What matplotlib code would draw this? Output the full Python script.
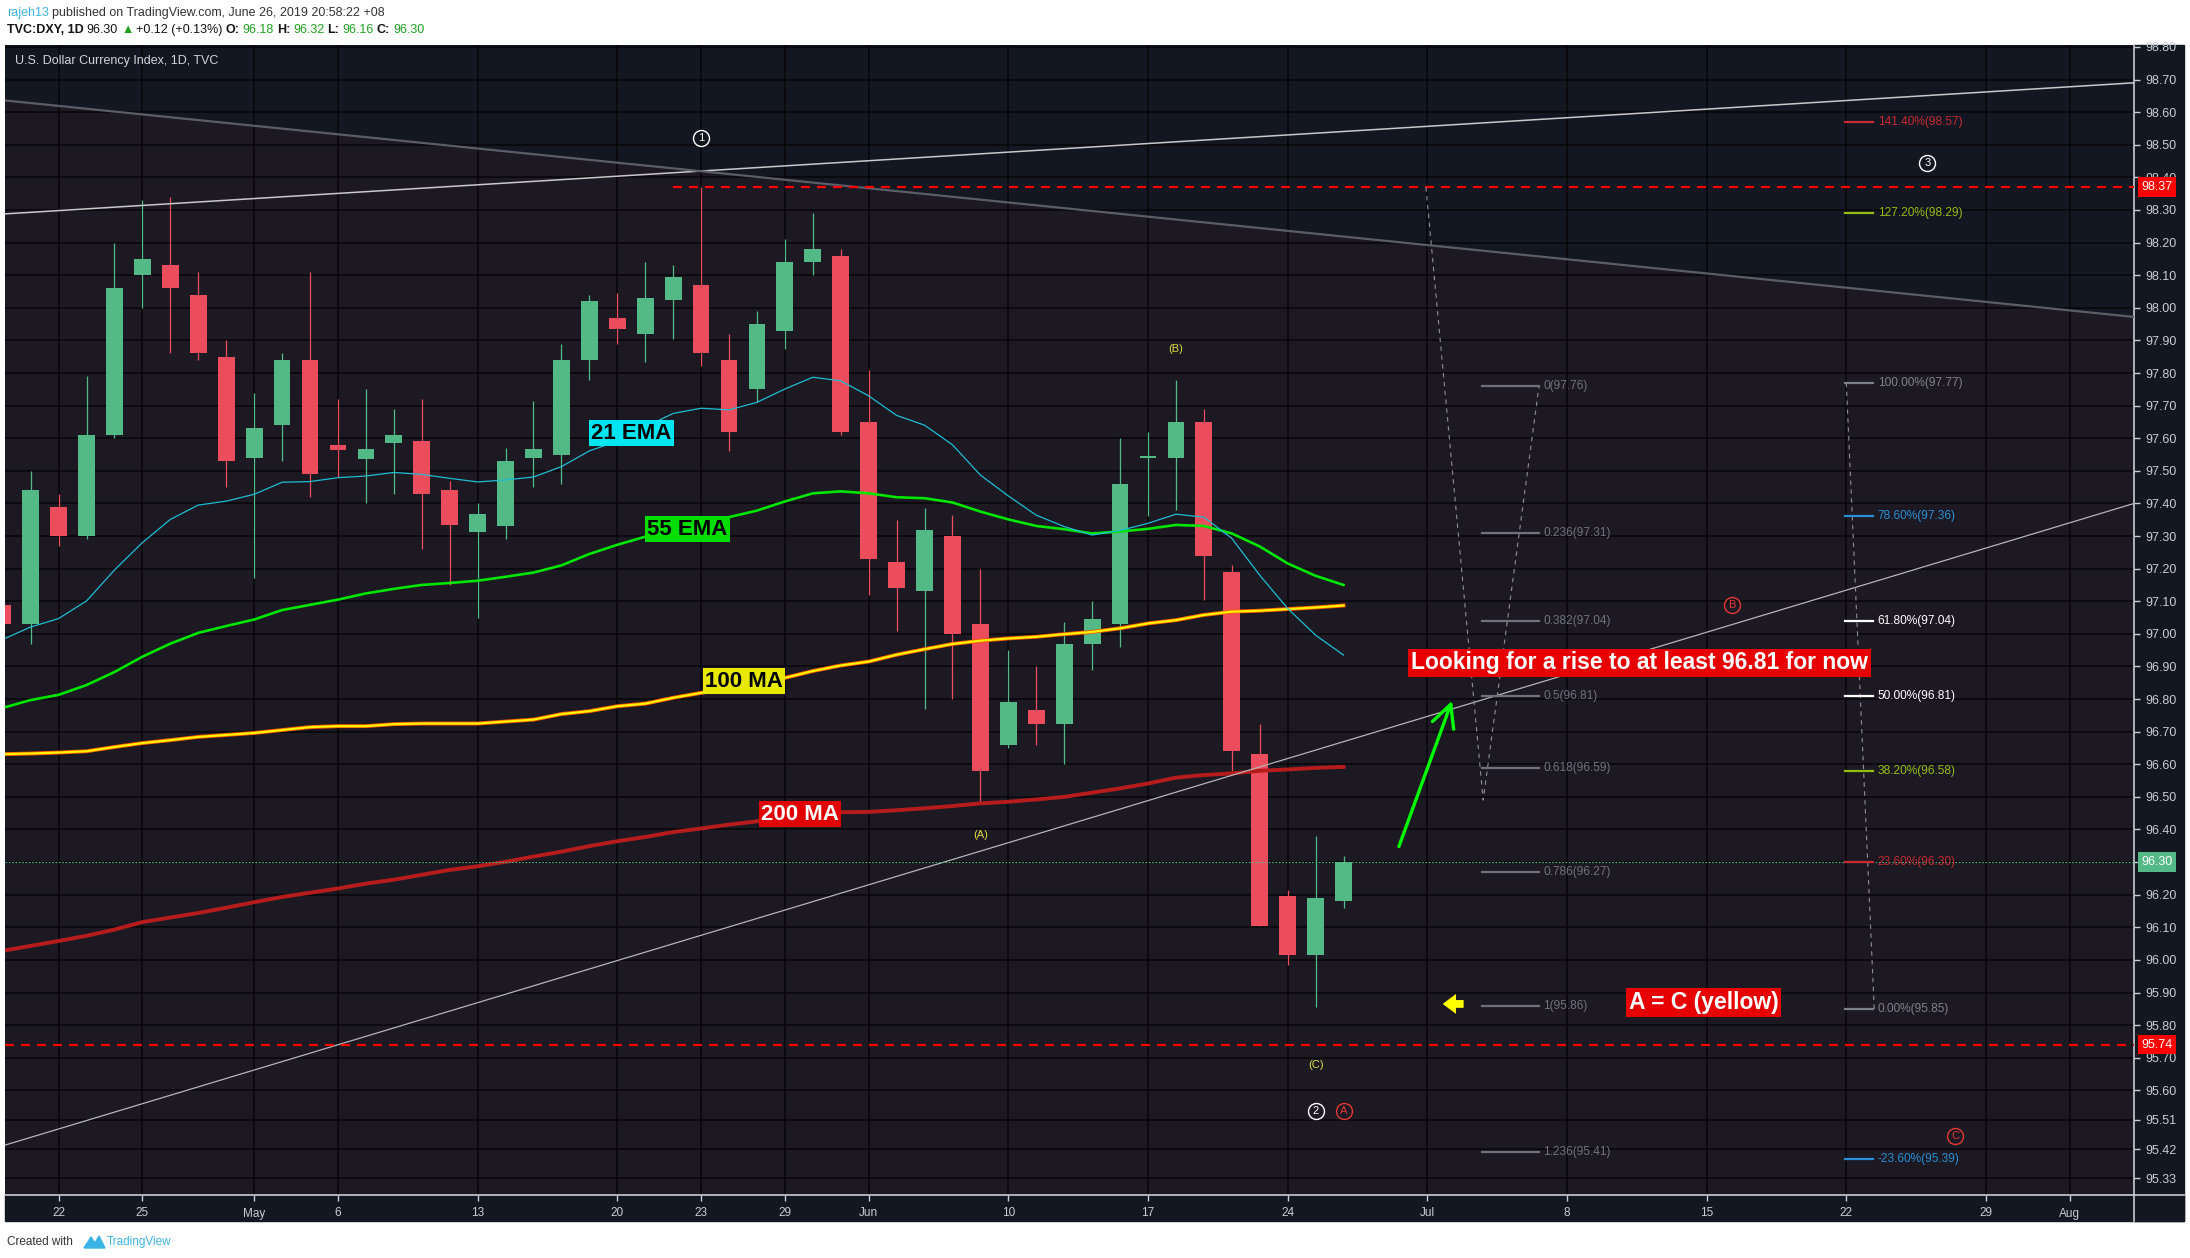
import matplotlib.pyplot as plt
import matplotlib.transforms as mtransforms
from matplotlib.patches import Rectangle, Polygon
from matplotlib.lines import Line2D

plt.rcParams['font.family'] = ['Liberation Sans', 'DejaVu Sans']

# daily bars, index 0 = 22 Apr 2019 (27 May missing)
bar_idx = list(range(-2, 47))
opens = [97.09, 97.03, 97.39, 97.30, 97.61, 98.10, 98.13, 98.04, 97.85, 97.54,
         97.64, 97.84, 97.58, 97.535, 97.585, 97.59, 97.44, 97.313, 97.33, 97.54,
         97.55, 97.84, 97.97, 97.92, 98.025, 98.07, 97.84, 97.75, 97.93, 98.14,
         98.16, 97.65, 97.22, 97.13, 97.30, 97.03, 96.66, 96.765, 96.725, 96.97,
         97.03, 97.54, 97.54, 97.65, 97.19, 96.63, 96.195, 96.015, 96.18]
highs = [97.11, 97.50, 97.43, 97.79, 98.20, 98.33, 98.34, 98.11, 97.90, 97.74,
         97.86, 98.11, 97.72, 97.75, 97.69, 97.72, 97.47, 97.40, 97.57, 97.715,
         97.89, 98.04, 98.045, 98.14, 98.13, 98.37, 97.92, 97.99, 98.21, 98.29,
         98.18, 97.81, 97.35, 97.385, 97.365, 97.20, 96.95, 96.90, 97.035, 97.10,
         97.60, 97.62, 97.78, 97.69, 97.21, 96.725, 96.215, 96.38, 96.32]
lows = [97.01, 96.97, 97.27, 97.29, 97.60, 98.00, 97.86, 97.84, 97.45, 97.17,
        97.53, 97.42, 97.48, 97.40, 97.43, 97.26, 97.15, 97.05, 97.29, 97.45,
        97.46, 97.78, 97.89, 97.835, 97.905, 97.82, 97.56, 97.71, 97.875, 98.10,
        97.61, 97.12, 97.01, 96.77, 96.80, 96.48, 96.65, 96.66, 96.60, 96.89,
        96.96, 97.36, 97.38, 97.105, 96.58, 96.105, 95.985, 95.855, 96.16]
closes = [97.03, 97.44, 97.30, 97.61, 98.06, 98.15, 98.06, 97.86, 97.53, 97.63,
          97.84, 97.49, 97.565, 97.567, 97.61, 97.43, 97.335, 97.368, 97.53, 97.567,
          97.84, 98.02, 97.935, 98.03, 98.095, 97.86, 97.62, 97.95, 98.14, 98.18,
          97.62, 97.23, 97.14, 97.32, 97.00, 96.58, 96.79, 96.725, 96.97, 97.045,
          97.46, 97.545, 97.65, 97.24, 96.64, 96.105, 96.015, 96.19, 96.30]

ema21 = [96.983, 97.021, 97.047, 97.101, 97.196, 97.28, 97.351, 97.395, 97.407, 97.428,
         97.465, 97.467, 97.479, 97.484, 97.495, 97.489, 97.477, 97.466, 97.472, 97.481,
         97.513, 97.561, 97.591, 97.635, 97.676, 97.692, 97.687, 97.71, 97.751, 97.787,
         97.776, 97.73, 97.67, 97.64, 97.58, 97.487, 97.423, 97.364, 97.329, 97.303,
         97.317, 97.339, 97.367, 97.358, 97.293, 97.18, 97.078, 96.996, 96.935]
ema55 = [96.773, 96.797, 96.813, 96.843, 96.883, 96.93, 96.97, 97.003, 97.024, 97.044,
         97.073, 97.089, 97.105, 97.124, 97.138, 97.15, 97.156, 97.163, 97.175, 97.188,
         97.21, 97.245, 97.273, 97.298, 97.319, 97.339, 97.358, 97.378, 97.406, 97.431,
         97.437, 97.431, 97.419, 97.416, 97.403, 97.375, 97.351, 97.331, 97.321, 97.308,
         97.314, 97.322, 97.334, 97.331, 97.308, 97.268, 97.216, 97.178, 97.15]
ma100 = [96.631, 96.633, 96.636, 96.640, 96.653, 96.665, 96.674, 96.684, 96.690, 96.696,
         96.705, 96.714, 96.717, 96.717, 96.723, 96.725, 96.725, 96.725, 96.731, 96.737,
         96.754, 96.763, 96.778, 96.786, 96.804, 96.819, 96.832, 96.848, 96.865, 96.886,
         96.903, 96.915, 96.936, 96.953, 96.969, 96.979, 96.986, 96.991, 96.999, 97.006,
         97.017, 97.032, 97.042, 97.058, 97.068, 97.071, 97.076, 97.081, 97.087]
ma200 = [96.028, 96.043, 96.058, 96.074, 96.093, 96.116, 96.13, 96.144, 96.16, 96.177,
         96.193, 96.206, 96.219, 96.234, 96.246, 96.261, 96.276, 96.287, 96.301, 96.317,
         96.332, 96.349, 96.364, 96.377, 96.392, 96.403, 96.415, 96.425, 96.437, 96.447,
         96.453, 96.454, 96.459, 96.465, 96.472, 96.48, 96.485, 96.492, 96.5, 96.513,
         96.526, 96.541, 96.559, 96.567, 96.572, 96.58, 96.584, 96.589, 96.592]

tick_pos = [0, 3, 7, 10, 15, 20, 23, 26, 29, 34, 39, 44, 49, 54, 59, 64, 69, 72]
tick_lbl = ['22', '25', 'May', '6', '13', '20', '23', '29', 'Jun', '10', '17', '24',
            'Jul', '8', '15', '22', '29', 'Aug']
price_ticks = [98.80, 98.70, 98.60, 98.50, 98.40, 98.30, 98.20, 98.10, 98.00, 97.90,
               97.80, 97.70, 97.60, 97.50, 97.40, 97.30, 97.20, 97.10, 97.00, 96.90,
               96.80, 96.70, 96.60, 96.50, 96.40, 96.30, 96.20, 96.10, 96.00, 95.90,
               95.80, 95.70, 95.60, 95.51, 95.42, 95.33]

fib_left_ratio = ['0', '0.236', '0.382', '0.5', '0.618', '0.786', '1', '1.236']
fib_left_price = [97.76, 97.31, 97.04, 96.81, 96.59, 96.27, 95.86, 95.41]
fib_right_pct = ['141.40%', '127.20%', '100.00%', '78.60%', '61.80%', '50.00%',
                 '38.20%', '23.60%', '0.00%', '-23.60%']
fib_right_price = [98.57, 98.29, 97.77, 97.36, 97.04, 96.81, 96.58, 96.30, 95.85, 95.39]
fib_right_color = ['#c62a32', '#94bd12', '#7d808a', '#2a8fd4', '#ffffff', '#ffffff',
                   '#94bd12', '#c62a32', '#7d808a', '#2a8fd4']

X0, X1 = -1.92, 74.3
Y0, Y1 = 95.279, 98.806
upper_line = [98.288, 98.69]
down_line = [98.636, 97.972]
lower_line = [95.432, 97.40]

W, H = 2190, 1258
def fx(px):
    return px / W
def fy(py):
    return 1 - py / H

UP, DN = '#53b987', '#eb4d5c'
AXC = '#c9ccd4'

fig = plt.figure(figsize=(21.9, 12.58), dpi=100)
fig.patch.set_facecolor('white')

# dark strips of the price / time scales
fig.add_artist(Rectangle((fx(2134), fy(1221)), 50 / W, 1176 / H, transform=fig.transFigure,
                         color='#131722', zorder=-1))
fig.add_artist(Rectangle((fx(5), fy(1221)), 2179 / W, 26 / H, transform=fig.transFigure,
                         color='#131722', zorder=-1))

ax = fig.add_axes([fx(5), fy(1195), 2129 / W, 1150 / H])
ax.set_facecolor('#131722')
ax.set_xlim(X0, X1)
ax.set_ylim(Y0, Y1)
ax.fill_between([X0, X1], down_line, Y0 - 1, color='#1c1923', lw=0, zorder=0.1)

ax.set_xticks(tick_pos)
ax.set_xticklabels(tick_lbl)
ax.set_yticks(price_ticks)
ax.set_yticklabels(['%.2f' % p for p in price_ticks])
ax.yaxis.tick_right()
ax.grid(True, color='#060608', lw=1.1)
ax.set_axisbelow(True)
ax.tick_params(axis='y', colors=AXC, labelsize=9, length=4, width=1, pad=4)
ax.tick_params(axis='x', colors=AXC, labelsize=8.5, length=4, width=1, pad=5)
for s in ['top', 'left']:
    ax.spines[s].set_visible(False)
for s in ['right', 'bottom']:
    ax.spines[s].set_color(AXC)
    ax.spines[s].set_linewidth(1.2)
fig.add_artist(Line2D([fx(2134), fx(2134)], [fy(1195), fy(1221)], color=AXC, lw=1.2))
fig.add_artist(Line2D([fx(2134), fx(2184)], [fy(1195), fy(1195)], color=AXC, lw=1.2))

# candles
for i, o, h, l, c in zip(bar_idx, opens, highs, lows, closes):
    col = UP if c >= o else DN
    ax.vlines(i, l, h, color=col, lw=0.9, zorder=3)
    ax.bar(i, max(abs(c - o), 0.006), bottom=min(o, c), width=0.6, color=col, lw=0, zorder=3.1)

# moving averages
ax.plot(bar_idx, ma200, color='#b71c1c', lw=2.8, zorder=4)
ax.plot(bar_idx, ma100, color='#ff5a00', lw=2.8, zorder=4)
ax.plot(bar_idx, ma100, color='#fff200', lw=1.6, zorder=4.1)
ax.plot(bar_idx, ema55, color='#00e600', lw=1.9, zorder=4)
ax.plot(bar_idx, ema21, color='#1fbcd2', lw=0.9, zorder=4.2)

def tag(x, y, s, bg, fg):
    ax.text(x, y, s, ha='center', va='center', fontsize=16, fontweight='bold', color=fg,
            bbox=dict(boxstyle='square,pad=0.1', fc=bg, ec='none'), zorder=7)

tag(20.5, 97.616, '21 EMA', '#00e5f0', 'black')
tag(22.5, 97.321, '55 EMA', '#00dd00', 'black')
tag(24.54, 96.855, '100 MA', '#e8e800', 'black')
tag(26.54, 96.447, '200 MA', '#e00000', 'white')

# trend lines and levels
ax.plot([X0, X1], upper_line, color='#c9c9cc', lw=1.1, zorder=5)
ax.plot([X0, X1], down_line, color='#5b5d66', lw=1.6, zorder=5)
ax.plot([X0, X1], lower_line, color='#b4b4b8', lw=0.9, zorder=5)
ax.plot([22, X1], [98.37, 98.37], color='#ff0000', lw=1.6, dashes=(4, 3.2), zorder=5)
ax.plot([X0, X1], [95.74, 95.74], color='#ff0000', lw=1.6, dashes=(4, 3.2), zorder=5)
ax.plot([X0, X1], [96.30, 96.30], color=UP, lw=0.8, dashes=(1.5, 1.5), zorder=5)

# fib retracements
ax.plot([48.95, 51, 53], [98.37, 96.49, 97.76], color='#8d9099', lw=0.8, dashes=(4, 4), zorder=5)
ax.plot([64, 65], [97.77, 95.85], color='#8d9099', lw=0.8, dashes=(4, 4), zorder=5)
for r, p in zip(fib_left_ratio, fib_left_price):
    ax.plot([50.95, 53], [p, p], color='#6f727c', lw=1.6, zorder=5)
    ax.text(53.15, p, '%s(%.2f)' % (r, p), color='#6f727c', fontsize=8.6, va='center', zorder=6)
for r, p, col in zip(fib_right_pct, fib_right_price, fib_right_color):
    ax.plot([63.95, 64.95], [p, p], color=col, lw=1.6, zorder=5)
    ax.text(65.12, p, '%s(%.2f)' % (r, p), color=col, fontsize=8.6, va='center', zorder=6)

# wave counts
def circled(x, y, s, col):
    ax.plot(x, y, 'o', ms=11.5, mfc='none', mec=col, mew=1.0, zorder=6)
    ax.text(x, y, s, color=col, fontsize=8, ha='center', va='center', zorder=6)

circled(23.0, 98.52, '1', 'white')
circled(66.9, 98.444, '3', 'white')
circled(45.0, 95.536, '2', 'white')
circled(46.0, 95.536, 'A', '#e53935')
circled(59.9, 97.088, 'B', '#e53935')
circled(67.9, 95.46, 'C', '#e53935')
for x, y, s in [(33.0, 96.383, '(A)'), (40.0, 97.874, '(B)'), (45.0, 95.677, '(C)')]:
    ax.text(x, y, s, color='#dede40', fontsize=8, ha='center', va='center', zorder=6)

# notes
ax.text(56.6, 96.911, 'Looking for a rise to at least 96.81 for now', ha='center', va='center',
        fontsize=16.5, fontweight='bold', color='white',
        bbox=dict(boxstyle='square,pad=0.12', fc='#e60000', ec='none'), zorder=7)
ax.text(58.9, 95.87, 'A = C (yellow)', ha='center', va='center', fontsize=16.5,
        fontweight='bold', color='white',
        bbox=dict(boxstyle='square,pad=0.12', fc='#e60000', ec='none'), zorder=7)
ax.annotate('', xy=(49.92, 96.803), xytext=(47.95, 96.34),
            arrowprops=dict(arrowstyle='->,head_length=0.9,head_width=0.45', color='#00ff00',
                            lw=2.4, mutation_scale=18), zorder=7)
ax.annotate('', xy=(49.55, 95.865), xytext=(50.3, 95.865),
            arrowprops=dict(arrowstyle='simple,head_length=0.6,head_width=0.9,tail_width=0.35',
                            color='#ffff00', lw=0, mutation_scale=16, shrinkA=0, shrinkB=0),
            zorder=7)

# price-scale badges
badge = mtransforms.blended_transform_factory(ax.transAxes, ax.transData)
for p, bg in [(98.37, '#ff0000'), (96.30, UP), (95.74, '#ff0000')]:
    ax.text(1.0035, p, '%.2f' % p, transform=badge, color='white', fontsize=9, va='center',
            ha='left', clip_on=False, zorder=8,
            bbox=dict(boxstyle='square,pad=0.3', fc=bg, ec='none'))

fig.text(fx(15), fy(61), 'U.S. Dollar Currency Index, 1D, TVC', color='#d1d4dc',
         fontsize=9, va='center')

# header rows
renderer = fig.canvas.get_renderer()
def row(pieces, x, y):
    for s, col, wt in pieces:
        t = fig.text(fx(x), fy(y), s, color=col, fontweight=wt, fontsize=9, va='center')
        x += t.get_window_extent(renderer).width + 3

GRN = '#1fa01f'
row([('rajeh13', '#3bb3e4', 'normal'),
     ('published on TradingView.com, June 26, 2019 20:58:22 +08', '#333333', 'normal')], 7, 13)
row([('TVC:DXY, 1D', '#131313', 'bold'), ('96.30', '#131313', 'normal'),
     ('\u25b2', GRN, 'normal'), ('+0.12 (+0.13%)', '#131313', 'normal'),
     ('O:', '#131313', 'bold'), ('96.18', GRN, 'normal'),
     ('H:', '#131313', 'bold'), ('96.32', GRN, 'normal'),
     ('L:', '#131313', 'bold'), ('96.16', GRN, 'normal'),
     ('C:', '#131313', 'bold'), ('96.30', GRN, 'normal')], 7, 30)

# footer
fig.text(fx(7), fy(1242), 'Created with', color='#333333', fontsize=8.5, va='center')
fig.add_artist(Polygon([(fx(84), fy(1248)), (fx(91), fy(1237)), (fx(95), fy(1243)),
                        (fx(99), fy(1236)), (fx(105), fy(1248))], closed=True,
                       transform=fig.transFigure, color='#3bb3e4'))
fig.text(fx(107), fy(1242), 'TradingView', color='#3bb3e4', fontsize=8.5, va='center')

fig.savefig('out.png', dpi=100, facecolor='white')
